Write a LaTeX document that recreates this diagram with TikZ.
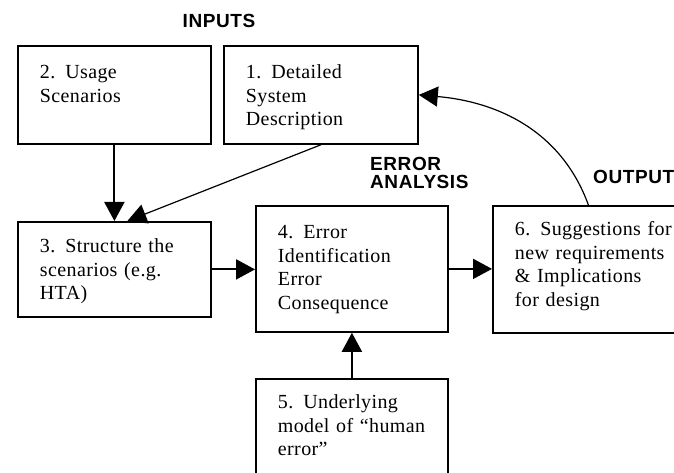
\documentclass[tikz,border=0pt]{standalone}
\usepackage{fontspec}
\setmainfont{Liberation Serif}[LetterSpace=2]
\newfontfamily\headfont{Liberation Sans}[LetterSpace=3]
\usetikzlibrary{calc,arrows.meta}
\tikzset{Block/.style={
    draw=black,
    line width=1.8pt,
    anchor=north west,
    inner sep=0pt,
    align=left,
    font=\fontsize{20}{23.5}\selectfont,
    execute at begin node={\leftskip=22pt},
    }
}
\tikzset{Head/.style={
    inner sep=0pt,
    align=left,
    font=\headfont\bfseries\fontsize{19}{18}\selectfont,
    }
}

\begin{document}
\begin{tikzpicture}[x=1pt,y=1pt,
    a/.style={-{Triangle[length=19pt,width=20pt]}, line width=2pt},
    t/.style={-{Triangle[length=19pt,width=20pt]}, line width=1.2pt},
]
\useasboundingbox (0,0) rectangle (674,473);
\clip (0,0) rectangle (674,473);
% inputs
\node [Block, text width=193pt, text height=33pt, text depth=65pt] (b2) at (17,428) {2. Usage\\Scenarios};
\node [Block, text width=194pt, text height=33pt, text depth=65pt] (b1) at (223,428) {1. Detailed\\System\\Description};
% analysis
\node [Block, text width=193pt, text height=31pt, text depth=64pt] (b3) at (17,252) {3. Structure the\\scenarios (e.g.\\HTA)};
\node [Block, text width=192pt, text height=33pt, text depth=93pt] (b4) at (255,268) {4. Error\\Identification\\Error\\Consequence};
\node [Block, text width=192pt, text height=30pt, text depth=85pt] (b5) at (255,95) {5. Underlying\\model of ``human\\error''};
% output
\node [Block, text width=200pt, text height=30pt, text depth=97pt] (b6) at (492,268) {6. Suggestions for\\new requirements\\\& Implications\\for design};
% headings
\node [Head, anchor=north] (inputs) at (219,459) {INPUTS};
\node [Head, anchor=north west] (erran) at (370,316) {ERROR\\ANALYSIS};
\node [Head, anchor=north west] (output) at (593,303) {OUTPUT};
% arrows
\draw [a] (b2.south) -- (b3.north);
\draw [t] (b1.south) -- (b3.75);
\draw [a] (b3.east) -- (b3.east -| b4.west);
\draw [a] (b4.east) -- (b4.east -| b6.west);
\draw [a] (b5.north) -- (b4.south);
\draw [t] (b6.94) to[out=110,in=-5] (b1.east);
\end{tikzpicture}
\end{document}
